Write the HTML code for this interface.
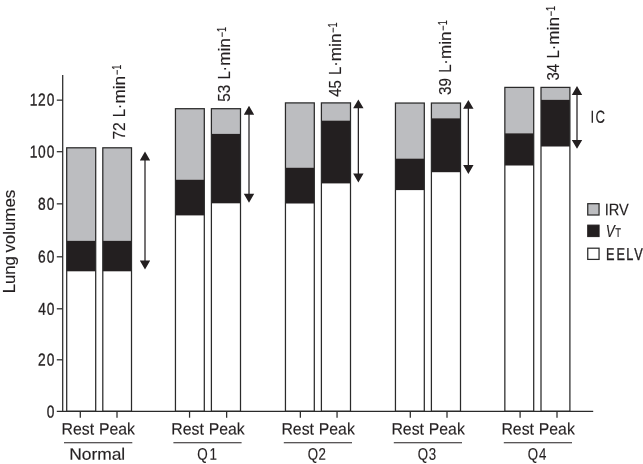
<!DOCTYPE html>
<html><head><meta charset="utf-8"><title>Lung volumes</title>
<style>
html,body{margin:0;padding:0;background:#fff;}
body{width:643px;height:464px;overflow:hidden;}
svg{display:block;}
text{font-family:"Liberation Sans",sans-serif;fill:#231f20;stroke:#231f20;stroke-width:0.15px;}
</style></head><body>
<svg width="643" height="464" viewBox="0 0 643 464">
<rect width="643" height="464" fill="#fff"/>
<g id="bars">
<rect x="66.7" y="147.8" width="29.00" height="93.00" fill="#bcbdc0"/>
<rect x="66.7" y="240.8" width="29.00" height="30.50" fill="#231f20"/>
<rect x="66.7" y="147.8" width="29.00" height="263.50" fill="none" stroke="#2a2a2a" stroke-width="1.25"/>
<rect x="102.8" y="147.8" width="28.70" height="93.00" fill="#bcbdc0"/>
<rect x="102.8" y="240.8" width="28.70" height="30.50" fill="#231f20"/>
<rect x="102.8" y="147.8" width="28.70" height="263.50" fill="none" stroke="#2a2a2a" stroke-width="1.25"/>
<rect x="175.45" y="108.7" width="28.85" height="71.00" fill="#bcbdc0"/>
<rect x="175.45" y="179.7" width="28.85" height="35.70" fill="#231f20"/>
<rect x="175.45" y="108.7" width="28.85" height="302.60" fill="none" stroke="#2a2a2a" stroke-width="1.25"/>
<rect x="211.4" y="108.7" width="29.10" height="25.15" fill="#bcbdc0"/>
<rect x="211.4" y="133.85" width="29.10" height="69.45" fill="#231f20"/>
<rect x="211.4" y="108.7" width="29.10" height="302.60" fill="none" stroke="#2a2a2a" stroke-width="1.25"/>
<rect x="285.45" y="102.9" width="28.85" height="64.80" fill="#bcbdc0"/>
<rect x="285.45" y="167.7" width="28.85" height="35.80" fill="#231f20"/>
<rect x="285.45" y="102.9" width="28.85" height="308.40" fill="none" stroke="#2a2a2a" stroke-width="1.25"/>
<rect x="321.4" y="102.9" width="29.10" height="17.70" fill="#bcbdc0"/>
<rect x="321.4" y="120.6" width="29.10" height="62.80" fill="#231f20"/>
<rect x="321.4" y="102.9" width="29.10" height="308.40" fill="none" stroke="#2a2a2a" stroke-width="1.25"/>
<rect x="395.45" y="103.05" width="28.85" height="55.55" fill="#bcbdc0"/>
<rect x="395.45" y="158.6" width="28.85" height="31.50" fill="#231f20"/>
<rect x="395.45" y="103.05" width="28.85" height="308.25" fill="none" stroke="#2a2a2a" stroke-width="1.25"/>
<rect x="431.4" y="103.05" width="29.10" height="15.25" fill="#bcbdc0"/>
<rect x="431.4" y="118.3" width="29.10" height="53.90" fill="#231f20"/>
<rect x="431.4" y="103.05" width="29.10" height="308.25" fill="none" stroke="#2a2a2a" stroke-width="1.25"/>
<rect x="504.85" y="87.4" width="28.85" height="45.90" fill="#bcbdc0"/>
<rect x="504.85" y="133.3" width="28.85" height="32.20" fill="#231f20"/>
<rect x="504.85" y="87.4" width="28.85" height="323.90" fill="none" stroke="#2a2a2a" stroke-width="1.25"/>
<rect x="541.0" y="87.4" width="28.90" height="12.40" fill="#bcbdc0"/>
<rect x="541.0" y="99.8" width="28.90" height="46.70" fill="#231f20"/>
<rect x="541.0" y="87.4" width="28.90" height="323.90" fill="none" stroke="#2a2a2a" stroke-width="1.25"/>
</g>
<g id="axes">
<path d="M62.7 75 V411.3 M56.8 411.3 H593.2" stroke="#2a2a2a" stroke-width="1.25" fill="none"/>
<text transform="translate(47.35 417.40) skewY(0.05) scale(0.8000 1)" font-size="17.2" x="-0.67" style="stroke-width:0.35px">0</text>
<path d="M56.8 359.80 H62.7" stroke="#2a2a2a" stroke-width="1.25"/>
<text transform="translate(38.60 365.45) skewY(0.05) scale(0.8000 1)" font-size="17.2" x="-0.87 10.27" style="stroke-width:0.35px">20</text>
<path d="M56.8 308.80 H62.7" stroke="#2a2a2a" stroke-width="1.25"/>
<text transform="translate(38.60 314.80) skewY(0.05) scale(0.8000 1)" font-size="17.2" x="-0.39 10.27" style="stroke-width:0.35px">40</text>
<path d="M56.8 256.80 H62.7" stroke="#2a2a2a" stroke-width="1.25"/>
<text transform="translate(38.60 262.60) skewY(0.05) scale(0.8000 1)" font-size="17.2" x="-0.87 10.27" style="stroke-width:0.35px">60</text>
<path d="M56.8 203.85 H62.7" stroke="#2a2a2a" stroke-width="1.25"/>
<text transform="translate(38.60 209.80) skewY(0.05) scale(0.8000 1)" font-size="17.2" x="-0.75 10.27" style="stroke-width:0.35px">80</text>
<path d="M56.8 151.70 H62.7" stroke="#2a2a2a" stroke-width="1.25"/>
<text transform="translate(30.67 157.40) skewY(0.05) scale(0.8000 1)" font-size="17.2" x="-1.31 9.24 20.18" style="stroke-width:0.35px">100</text>
<path d="M56.8 100.15 H62.7" stroke="#2a2a2a" stroke-width="1.25"/>
<text transform="translate(30.67 105.60) skewY(0.05) scale(0.8000 1)" font-size="17.2" x="-1.31 9.05 20.18" style="stroke-width:0.35px">120</text>
<path d="M80.30 411.3 V417.7" stroke="#2a2a2a" stroke-width="1.25"/>
<path d="M117.00 411.3 V417.7" stroke="#2a2a2a" stroke-width="1.25"/>
<path d="M189.55 411.3 V417.7" stroke="#2a2a2a" stroke-width="1.25"/>
<path d="M226.65 411.3 V417.7" stroke="#2a2a2a" stroke-width="1.25"/>
<path d="M300.35 411.3 V417.7" stroke="#2a2a2a" stroke-width="1.25"/>
<path d="M337.05 411.3 V417.7" stroke="#2a2a2a" stroke-width="1.25"/>
<path d="M410.30 411.3 V417.7" stroke="#2a2a2a" stroke-width="1.25"/>
<path d="M447.00 411.3 V417.7" stroke="#2a2a2a" stroke-width="1.25"/>
<path d="M520.10 411.3 V417.7" stroke="#2a2a2a" stroke-width="1.25"/>
<path d="M557.00 411.3 V417.7" stroke="#2a2a2a" stroke-width="1.25"/>
<text transform="translate(62.60 434.55) skewY(0.05)" font-size="16.5"><tspan x="-1.10" textLength="37.02" lengthAdjust="spacingAndGlyphs">Rest </tspan><tspan x="36.31" textLength="35.97" lengthAdjust="spacingAndGlyphs">Peak</tspan></text>
<path d="M64 442.75 H132.3" stroke="#231f20" stroke-width="1.05"/>
<text transform="translate(69.17 459.80) skewY(0.05) scale(1.0549 1)" font-size="16.5">Normal</text>
<text transform="translate(172.40 434.55) skewY(0.05)" font-size="16.5"><tspan x="-1.10" textLength="37.02" lengthAdjust="spacingAndGlyphs">Rest </tspan><tspan x="36.31" textLength="35.97" lengthAdjust="spacingAndGlyphs">Peak</tspan></text>
<path d="M173.4 442.75 H241.6" stroke="#231f20" stroke-width="1.05"/>
<text transform="translate(198.00 459.80) skewY(0.05) scale(0.8000 1)" font-size="16.8" x="-0.80 14.24">Q1</text>
<text transform="translate(282.50 434.55) skewY(0.05)" font-size="16.5"><tspan x="-1.10" textLength="37.02" lengthAdjust="spacingAndGlyphs">Rest </tspan><tspan x="36.31" textLength="35.97" lengthAdjust="spacingAndGlyphs">Peak</tspan></text>
<path d="M283.8 442.75 H352" stroke="#231f20" stroke-width="1.05"/>
<text transform="translate(308.40 459.80) skewY(0.05) scale(0.7900 1)" font-size="16.8" x="-0.80 12.95">Q2</text>
<text transform="translate(392.50 434.55) skewY(0.05)" font-size="16.5"><tspan x="-1.10" textLength="37.02" lengthAdjust="spacingAndGlyphs">Rest </tspan><tspan x="36.31" textLength="35.97" lengthAdjust="spacingAndGlyphs">Peak</tspan></text>
<path d="M393.8 442.75 H462" stroke="#231f20" stroke-width="1.05"/>
<text transform="translate(418.40 459.80) skewY(0.05) scale(0.7900 1)" font-size="16.8" x="-0.80 13.16">Q3</text>
<text transform="translate(502.50 434.55) skewY(0.05)" font-size="16.5"><tspan x="-1.10" textLength="37.02" lengthAdjust="spacingAndGlyphs">Rest </tspan><tspan x="36.31" textLength="35.97" lengthAdjust="spacingAndGlyphs">Peak</tspan></text>
<path d="M503.8 442.75 H572" stroke="#231f20" stroke-width="1.05"/>
<text transform="translate(528.40 459.80) skewY(0.05) scale(0.7900 1)" font-size="16.8" x="-0.80 13.41">Q4</text>
</g>
<g id="arrows">
<path d="M145.0 155.5 V265.4" stroke="#231f20" stroke-width="1.25"/>
<path d="M145.0 151.5 l5.2 8.9 h-10.4 z M145.0 269.4 l5.2 -8.9 h-10.4 z" fill="#231f20"/>
<path d="M249.0 109.8 V198.7" stroke="#231f20" stroke-width="1.25"/>
<path d="M249.0 105.8 l5.2 8.9 h-10.4 z M249.0 202.7 l5.2 -8.9 h-10.4 z" fill="#231f20"/>
<path d="M358.35 103.45 V178.45" stroke="#231f20" stroke-width="1.25"/>
<path d="M358.35 99.45 l5.2 8.9 h-10.4 z M358.35 182.45 l5.2 -8.9 h-10.4 z" fill="#231f20"/>
<path d="M468.35 103.95 V169.9" stroke="#231f20" stroke-width="1.25"/>
<path d="M468.35 99.95 l5.2 8.9 h-10.4 z M468.35 173.9 l5.2 -8.9 h-10.4 z" fill="#231f20"/>
<path d="M577.0 90.1 V144.85" stroke="#231f20" stroke-width="1.25"/>
<path d="M577.0 86.1 l5.2 8.9 h-10.4 z M577.0 148.85 l5.2 -8.9 h-10.4 z" fill="#231f20"/>
</g>
<g id="labels">
<text transform="translate(124.55 138.80) rotate(-90)" font-size="16.6"><tspan x="-0.80" textLength="21.59" lengthAdjust="spacingAndGlyphs">72 </tspan><tspan x="21.57" textLength="13.31" lengthAdjust="spacingAndGlyphs">L·</tspan><tspan x="35.36" textLength="27.55" lengthAdjust="spacingAndGlyphs">min</tspan><tspan x="63.75" textLength="10.39" lengthAdjust="spacingAndGlyphs" font-size="12" dy="-4.0">−1</tspan></text>
<text transform="translate(229.90 101.10) rotate(-90)" font-size="16.6"><tspan x="-0.61" textLength="21.22" lengthAdjust="spacingAndGlyphs">53 </tspan><tspan x="21.57" textLength="13.31" lengthAdjust="spacingAndGlyphs">L·</tspan><tspan x="35.36" textLength="27.55" lengthAdjust="spacingAndGlyphs">min</tspan><tspan x="63.75" textLength="10.39" lengthAdjust="spacingAndGlyphs" font-size="12" dy="-4.0">−1</tspan></text>
<text transform="translate(340.50 96.50) rotate(-90)" font-size="16.6"><tspan x="-0.34" textLength="20.84" lengthAdjust="spacingAndGlyphs">45 </tspan><tspan x="21.57" textLength="13.31" lengthAdjust="spacingAndGlyphs">L·</tspan><tspan x="35.36" textLength="27.55" lengthAdjust="spacingAndGlyphs">min</tspan><tspan x="63.75" textLength="10.39" lengthAdjust="spacingAndGlyphs" font-size="12" dy="-4.0">−1</tspan></text>
<text transform="translate(450.60 94.40) rotate(-90)" font-size="16.6"><tspan x="-0.58" textLength="21.25" lengthAdjust="spacingAndGlyphs">39 </tspan><tspan x="21.57" textLength="13.31" lengthAdjust="spacingAndGlyphs">L·</tspan><tspan x="35.36" textLength="27.55" lengthAdjust="spacingAndGlyphs">min</tspan><tspan x="63.75" textLength="10.39" lengthAdjust="spacingAndGlyphs" font-size="12" dy="-4.0">−1</tspan></text>
<text transform="translate(558.50 80.00) rotate(-90)" font-size="16.6"><tspan x="-0.57" textLength="20.89" lengthAdjust="spacingAndGlyphs">34 </tspan><tspan x="21.57" textLength="13.31" lengthAdjust="spacingAndGlyphs">L·</tspan><tspan x="35.36" textLength="27.55" lengthAdjust="spacingAndGlyphs">min</tspan><tspan x="63.75" textLength="10.39" lengthAdjust="spacingAndGlyphs" font-size="12" dy="-4.0">−1</tspan></text>
</g>
<text transform="translate(14.7 291.8) rotate(-90)" font-size="17.3"><tspan x="-1.37" textLength="41.66" lengthAdjust="spacingAndGlyphs">Lung </tspan><tspan x="39.24" textLength="62.77" lengthAdjust="spacingAndGlyphs">volumes</tspan></text>
<text transform="translate(591.65 122.75) skewY(0.05) scale(0.7600 1)" font-size="17.4" x="-1.61 5.23">IC</text>
<g id="legend">
<rect x="587.75" y="203.7" width="11.3" height="11.3" fill="#bcbdc0" stroke="#2a2a2a" stroke-width="1.25"/>
<rect x="587.7" y="225.1" width="11.4" height="11.5" fill="#231f20" stroke="#231f20"/>
<rect x="587.75" y="248.2" width="11.3" height="11.2" fill="#fff" stroke="#2a2a2a" stroke-width="1.25"/>
<text transform="translate(604.75 215.30) skewY(0.05) scale(0.8718 1)" font-size="16.8">IRV</text>
<text transform="translate(606.8 237.1) skewY(0.05)" font-size="17.3"><tspan x="-1.17" textLength="9.02" lengthAdjust="spacingAndGlyphs" font-style="italic">V</tspan><tspan x="8.39" textLength="5.73" lengthAdjust="spacingAndGlyphs" font-size="12.6">T</tspan></text>
<text transform="translate(607.00 259.90) skewY(0.05) scale(0.7500 1)" font-size="17.0" x="-1.39 12.61 25.81 36.46" style="stroke-width:0.35px">EELV</text>
</g>
</svg></body></html>
